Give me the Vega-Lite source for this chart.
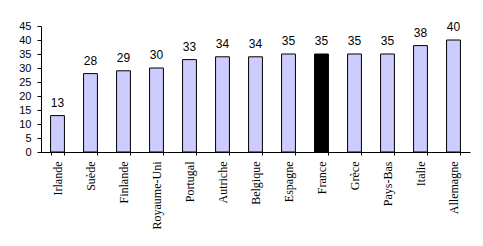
{
  "$schema": "https://vega.github.io/schema/vega-lite/v6.json",
  "width": 429,
  "height": 126,
  "autosize": "none",
  "padding": {"left": 41, "top": 26, "right": 13, "bottom": 94},
  "background": "white",
  "config": {"view": {"stroke": null}},
  "data": {
    "values": [
      {"pays": "Irlande", "valeur": 13, "type": "autre"},
      {"pays": "Suède", "valeur": 28, "type": "autre"},
      {"pays": "Finlande", "valeur": 29, "type": "autre"},
      {"pays": "Royaume-Uni", "valeur": 30, "type": "autre"},
      {"pays": "Portugal", "valeur": 33, "type": "autre"},
      {"pays": "Autriche", "valeur": 34, "type": "autre"},
      {"pays": "Belgique", "valeur": 34, "type": "autre"},
      {"pays": "Espagne", "valeur": 35, "type": "autre"},
      {"pays": "France", "valeur": 35, "type": "France"},
      {"pays": "Grèce", "valeur": 35, "type": "autre"},
      {"pays": "Pays-Bas", "valeur": 35, "type": "autre"},
      {"pays": "Italie", "valeur": 38, "type": "autre"},
      {"pays": "Allemagne", "valeur": 40, "type": "autre"}
    ]
  },
  "encoding": {
    "x": {
      "field": "pays",
      "type": "nominal",
      "sort": null,
      "scale": {"paddingInner": 0.58, "paddingOuter": 0.29},
      "axis": {
        "title": null,
        "labelAngle": -90,
        "labelFont": "Liberation Serif",
        "labelFontSize": 12,
        "labelColor": "black",
        "labelPadding": 6,
        "tickBand": "extent",
        "tickSize": 3,
        "tickColor": "black",
        "domainColor": "black",
        "grid": false
      }
    },
    "y": {
      "field": "valeur",
      "type": "quantitative",
      "scale": {"domain": [0, 45], "nice": false},
      "axis": {
        "title": null,
        "values": [0, 5, 10, 15, 20, 25, 30, 35, 40, 45],
        "labelFont": "Liberation Sans",
        "labelFontSize": 11,
        "labelColor": "black",
        "labelPadding": 6,
        "tickSize": 4,
        "tickColor": "black",
        "domainColor": "black",
        "grid": false
      }
    }
  },
  "layer": [
    {
      "mark": {"type": "bar", "stroke": "black", "strokeWidth": 1},
      "encoding": {
        "fill": {
          "field": "type",
          "type": "nominal",
          "scale": {"domain": ["autre", "France"], "range": ["#ccccff", "#000000"]},
          "legend": null
        }
      }
    },
    {
      "mark": {"type": "text", "baseline": "alphabetic", "dy": -9, "font": "Liberation Sans", "fontSize": 12, "color": "black"},
      "encoding": {"text": {"field": "valeur", "type": "quantitative"}}
    }
  ]
}
